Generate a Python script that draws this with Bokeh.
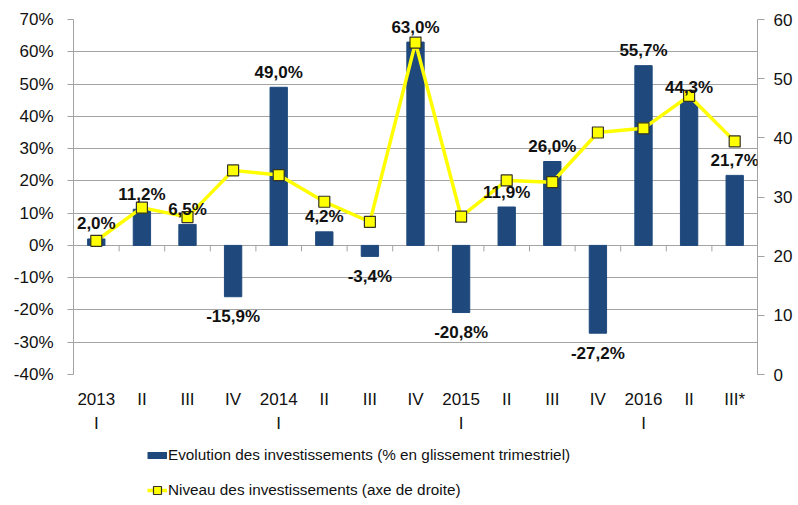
from bokeh.plotting import figure
from bokeh.layouts import column
from bokeh.models import (Range1d, LinearAxis, FixedTicker, PrintfTickFormatter,
                          ColumnDataSource, LabelSet, Legend, LegendItem)
from bokeh.embed import file_html
from bokeh.resources import INLINE
from bokeh.core.properties import value
import math

# ---- data ----
quarters = ["2013\nI", "II", "III", "IV", "2014\nI", "II", "III", "IV",
            "2015\nI", "II", "III", "IV", "2016\nI", "II", "III*"]
evolution = [2.0, 11.2, 6.5, -15.9, 49.0, 4.2, -3.4, 63.0,
             -20.8, 11.9, 26.0, -27.2, 55.7, 44.3, 21.7]
niveau = [22.6, 28.2, 26.6, 34.5, 33.7, 29.2, 25.8, 56.1,
          26.7, 32.8, 32.5, 40.9, 41.6, 47.1, 39.4]
left_ticks = [-40, -30, -20, -10, 0, 10, 20, 30, 40, 50, 60, 70]
right_ticks = [0, 10, 20, 30, 40, 50, 60]
legend_labels = ["Evolution des investissements (% en glissement trimestriel)",
                 "Niveau des investissements (axe de droite)"]

BLUE = "#1F497D"
YELLOW = "#FFFF00"
GRID = "#a3a3a3"
FONT = "Liberation Sans"
MARK_LINE = "#333326"

n = len(quarters)
xc = [i + 0.5 for i in range(n)]
labels = [("%.1f" % v).replace(".", ",") + "%" for v in evolution]
yoff = [15 if v >= 0 else -20 for v in evolution]
src = ColumnDataSource(dict(x=xc, evo=evolution, niv=niveau, lab=labels, yoff=yoff))

p = figure(width=798, height=440, x_range=Range1d(0, n), y_range=Range1d(-40, 70),
           output_backend="svg", toolbar_location=None,
           min_border_left=73, min_border_right=41, min_border_top=19, min_border_bottom=66)
p.extra_y_ranges = {"right": Range1d(0, 60)}
p.outline_line_color = None
p.xgrid.visible = False
p.ygrid.grid_line_color = GRID
p.ygrid.grid_line_width = 1

# left axis
ya = p.yaxis[0]
ya.ticker = FixedTicker(ticks=left_ticks)
ya.formatter = PrintfTickFormatter(format="%d%%")
ya.axis_line_color = GRID
ya.major_tick_line_color = GRID
ya.major_tick_out = 6
ya.major_tick_in = 0
ya.minor_tick_line_color = None
ya.major_label_standoff = 14
ya.major_label_text_font = FONT
ya.major_label_text_font_size = "17px"
ya.major_label_text_color = "#111111"

# right axis
ra = LinearAxis(y_range_name="right", ticker=FixedTicker(ticks=right_ticks))
ra.axis_line_color = GRID
ra.major_tick_line_color = GRID
ra.major_tick_out = 7
ra.major_tick_in = 0
ra.minor_tick_line_color = None
ra.major_label_standoff = 9
ra.major_label_text_font = FONT
ra.major_label_text_font_size = "17px"
ra.major_label_text_color = "#111111"
p.add_layout(ra, "right")

# bottom axis (category labels)
xa = p.xaxis[0]
xa.ticker = FixedTicker(ticks=xc)
xa.major_label_overrides = {x: q for x, q in zip(xc, quarters)}
xa.axis_line_color = None
xa.major_tick_line_color = None
xa.minor_tick_line_color = None
xa.major_tick_out = 0
xa.major_tick_in = 0
xa.major_label_standoff = 15
xa.major_label_text_font = FONT
xa.major_label_text_font_size = "17px"
xa.major_label_text_color = "#111111"
xa.major_label_text_line_height = 1.3

# bars
p.vbar(x="x", top="evo", bottom=0, width=0.38, source=src,
       fill_color=BLUE, line_color=BLUE)

# category boundary ticks on the zero line
p.ray(x=list(range(1, n)), y=[0] * (n - 1), length=6, length_units="screen",
      angle=-math.pi / 2, line_color=GRID, line_width=1)

# line on right axis
p.line(x="x", y="niv", source=src, y_range_name="right",
       line_color=YELLOW, line_width=3.5)
p.scatter(x="x", y="niv", source=src, y_range_name="right", marker="square",
          size=11, fill_color=YELLOW, line_color=MARK_LINE, line_width=1.2)

# data labels
ls = LabelSet(x="x", y="evo", text="lab", y_offset="yoff", source=src,
              text_align="center", text_baseline="middle",
              text_font=value(FONT), text_font_size="17px", text_font_style="bold",
              text_color="#111111")
p.add_layout(ls)

# legend strip (separate figure below the chart; its frame is aligned with the chart's)
lg = figure(width=798, height=65, x_range=Range1d(0, 1), y_range=Range1d(0, 1),
            output_backend="svg", toolbar_location=None,
            x_axis_type=None, y_axis_type=None, min_border=0)
lg.outline_line_color = None
lg.grid.visible = False
# proxies use the real series; all their points lie outside this strip's ranges
pb = lg.line(x="x", y="evo", source=src, line_color=BLUE, line_width=7)
pl = lg.line(x="x", y="niv", source=src, line_color=YELLOW, line_width=3.5)
pm = lg.scatter(x="x", y="niv", source=src, marker="square", fill_color=YELLOW,
                line_color=MARK_LINE, line_width=1.2)
legend = Legend(items=[LegendItem(label=legend_labels[0], renderers=[pb]),
                       LegendItem(label=legend_labels[1], renderers=[pl, pm])],
                location=(74, 5), orientation="vertical",
                glyph_width=20, glyph_height=20, label_height=20, spacing=15,
                padding=0, margin=0, border_line_color=None, background_fill_alpha=0,
                label_standoff=1, label_text_font=FONT, label_text_font_size="15.3px",
                label_text_color="#111111")
lg.add_layout(legend)

layout = column(p, lg, spacing=0)
open("out.html", "w").write(file_html(layout, INLINE))
